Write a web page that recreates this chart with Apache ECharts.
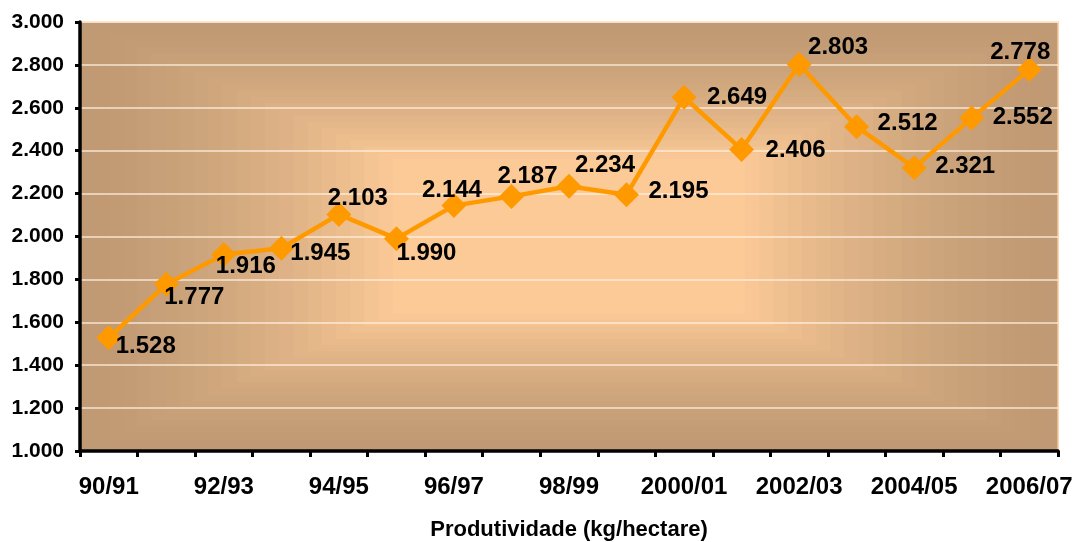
<!DOCTYPE html>
<html>
<head>
<meta charset="utf-8">
<script src="https://cdn.jsdelivr.net/npm/echarts@6/dist/echarts.min.js"></script>
<style>
html,body{margin:0;padding:0;background:#fff;}
#chart{width:1073px;height:542px;}
</style>
</head>
<body>
<div id="chart"></div>
<script>
// ---- data ----
const categories = ['90/91','91/92','92/93','93/94','94/95','95/96','96/97','97/98','98/99','99/00','2000/01','2001/02','2002/03','2003/04','2004/05','2005/06','2006/07'];
const productivity = [1528, 1777, 1916, 1945, 2103, 1990, 2144, 2187, 2234, 2195, 2649, 2406, 2803, 2512, 2321, 2552, 2778];
const yTicks = { min: 1000, max: 3000, interval: 200 };
const axisName = 'Produtividade (kg/hectare)';

// ---- label placement (style, offsets relative to point) ----
const labelOffsets = [[37,9],[28,13],[22,12],[39,5],[19,-16],[30,15],[-2,-15],[16,-20],[36,-21],[52,-3],[53,0],[54,1],[39,-17],[51,-3],[51,-1],[51,-1],[-9,-17]];

const fmt = v => (v/1000).toFixed(3);
const FONT = '"Liberation Sans", Arial, sans-serif';

const G = { left: 80, top: 22, right: 15, bottom: 91 };
const W = 1073, H = 542;
const gw = W - G.left - G.right, gh = H - G.top - G.bottom;
const edgeRGB = [192,154,116];
const centerRGB = [252,202,151];

// rectangular "from centre" gradient background, drawn as concentric steps
const bgSteps = [];
const N = 22, innerScale = 0.36;
for (let i = 0; i <= N; i++) {
  const t = i / N;
  const s = 1 - t * (1 - innerScale);
  const w = gw * s, h = gh * s;
  const ct = Math.pow(t, 1.5);
  const c = edgeRGB.map((e, k) => Math.round(e + (centerRGB[k] - e) * ct));
  bgSteps.push({
    type: 'rect', z: -10, z2: i, silent: true,
    shape: { x: G.left + (gw - w) / 2, y: G.top + (gh - h) / 2, width: w, height: h },
    style: { fill: 'rgb(' + c.join(',') + ')' }
  });
}

const chart = echarts.init(document.getElementById('chart'), null, {renderer:'canvas'});
chart.setOption({
  animation: false,
  backgroundColor: '#ffffff',
  graphic: bgSteps,
  grid: { left: G.left, top: G.top, right: G.right, bottom: G.bottom, show: true,
          containLabel: false, outerBoundsMode: 'none',
          backgroundColor: 'transparent', borderColor: '#f8c898', borderWidth: 1.5 },
  xAxis: {
    type: 'category', data: categories, boundaryGap: true,
    name: axisName, nameLocation: 'middle', nameGap: 68,
    nameTextStyle: { fontFamily: FONT, fontWeight: 'bold', fontSize: 22, color: '#000' },
    axisLine: { show: true, lineStyle: { color: '#000', width: 3.5 } },
    axisTick: { show: true, interval: 0, alignWithLabel: false, length: 6, lineStyle: { color: '#000', width: 3 } },
    axisLabel: { interval: 1, margin: 24, fontFamily: FONT, fontWeight: 'bold', fontSize: 24, color: '#000' },
    splitLine: { show: false }
  },
  yAxis: {
    type: 'value', min: yTicks.min, max: yTicks.max, interval: yTicks.interval,
    axisLine: { show: true, lineStyle: { color: '#000', width: 3.5 } },
    axisTick: { show: true, length: 5, lineStyle: { color: '#000', width: 3 } },
    axisLabel: { formatter: fmt, margin: 16, fontFamily: FONT, fontWeight: 'bold', fontSize: 21, color: '#000' },
    splitLine: { show: true, lineStyle: { color: 'rgba(255,240,225,0.85)', width: 1.5 } }
  },
  series: [{
    type: 'line',
    data: productivity.map((v, i) => ({ value: v, label: { offset: labelOffsets[i] } })),
    symbol: 'diamond', symbolSize: 25,
    lineStyle: { color: '#ff9900', width: 4.5 },
    itemStyle: { color: '#ff9900' },
    label: { show: true, position: 'inside', formatter: p => fmt(p.value),
             fontFamily: FONT, fontWeight: 'bold', fontSize: 24, color: '#000' },
    z: 5
  }]
});
</script>
</body>
</html>
